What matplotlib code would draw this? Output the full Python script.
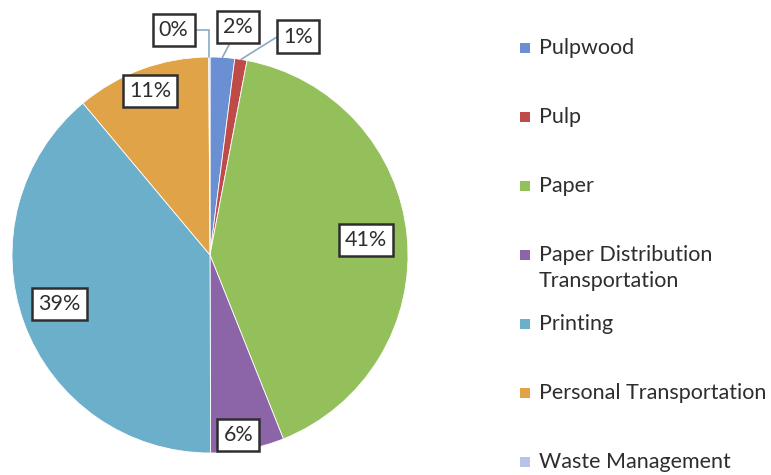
import matplotlib
matplotlib.use("Agg")
import matplotlib.pyplot as plt
import numpy as np
from matplotlib.patches import Rectangle

plt.rcParams["font.family"] = ["Lato", "DejaVu Sans"]
INK = "#2e2e2e"
LEADER = "#8aa9c4"

# share of emissions by life-cycle stage (%)
categories = ["Pulpwood", "Pulp", "Paper", "Paper Distribution\nTransportation",
              "Printing", "Personal Transportation", "Waste Management"]
values = [2, 1, 41, 6, 39, 11, 0.1]
colors = ["#6a8fd3", "#be4b48", "#93c05a", "#8c64a8", "#6bafcb", "#e1a347", "#b7c3e8"]

# label placement: radius (pie = 1) and small angle nudge in degrees
label_r = [1.16, 1.19, 0.79, 0.92, 0.80, 0.88, 1.15]
label_nudge = [3.5, 13, 0, 2, 2, 0, -9]
leader = [True, True, False, False, False, False, True]
conn = ["arc3", "angle,angleA=180,angleB=32", None, None, None, None,
        "angle,angleA=0,angleB=90"]

W, H = 771, 475
FS = 15.5
fig = plt.figure(figsize=(W / 100, H / 100), dpi=100)
cx, cy, R = 210, 255, 198
ax = fig.add_axes([(cx - R) / W, (H - cy - R) / H, 2 * R / W, 2 * R / H])

wedges, _ = ax.pie(values, colors=colors, startangle=90, counterclock=False,
                   radius=1, wedgeprops=dict(edgecolor="white", linewidth=0.6))
ax.set_xlim(-1, 1)
ax.set_ylim(-1, 1)
ax.set_aspect("equal")
ax.axis("off")

total = sum(values)
box = dict(boxstyle="square,pad=0.28", facecolor="white", edgecolor=INK, linewidth=1.8)
for w, v, r, nd, ld, cs in zip(wedges, values, label_r, label_nudge, leader, conn):
    mid = np.deg2rad((w.theta1 + w.theta2) / 2)
    pt = (np.cos(mid), np.sin(mid))
    a = mid - np.deg2rad(nd)
    pos = (r * np.cos(a), r * np.sin(a))
    txt = f"{v / total * 100:.0f}%"
    if ld:
        ax.annotate(txt, xy=pt, xytext=pos, ha="center", va="center",
                    fontsize=FS, color=INK, bbox=box, annotation_clip=False,
                    arrowprops=dict(arrowstyle="-", color=LEADER, lw=1.2,
                                    connectionstyle=cs, shrinkA=0, shrinkB=0))
    else:
        ax.text(pos[0], pos[1], txt, ha="center", va="center",
                fontsize=FS, color=INK, bbox=box)

# legend: equal slots, text hangs from the top of each slot
y0, step = 48, 69
for i, (lab, c) in enumerate(zip(categories, colors)):
    y = y0 + i * step
    fig.patches.append(Rectangle((520 / W, 1 - (y + 5) / H), 10 / W, 10 / H,
                                 facecolor=c, edgecolor="none",
                                 transform=fig.transFigure))
    fig.text(539 / W, 1 - (y - 10) / H, lab, ha="left", va="top",
             fontsize=FS, color=INK, linespacing=1.35)

fig.savefig("out.png", dpi=100)
